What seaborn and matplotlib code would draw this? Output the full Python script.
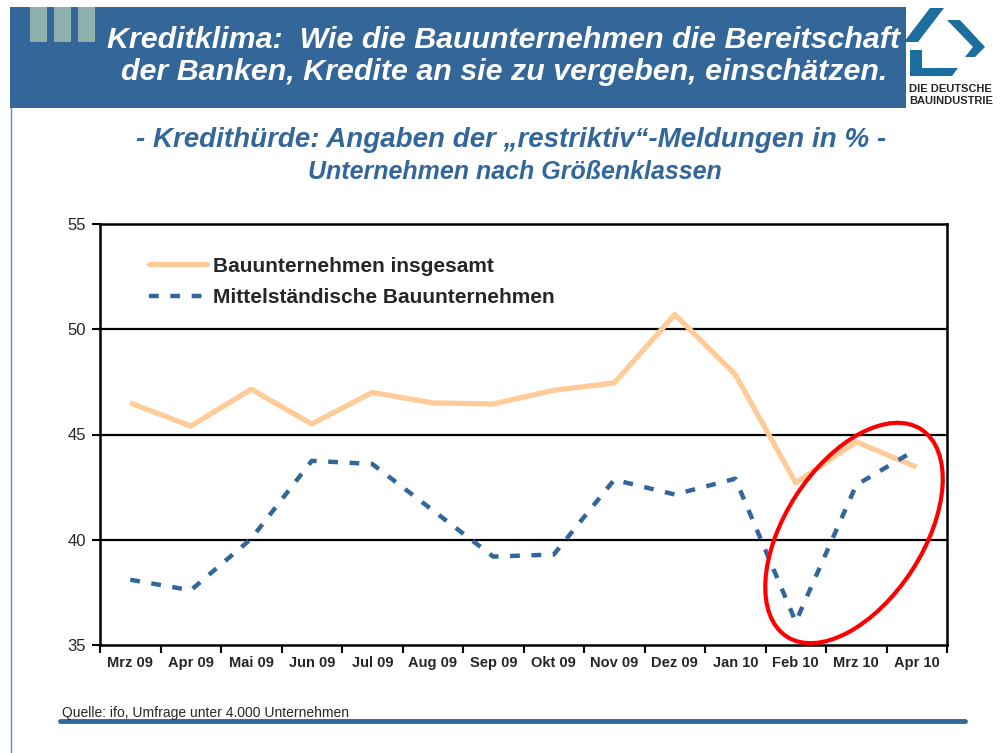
import matplotlib
matplotlib.use("Agg")
import matplotlib.pyplot as plt
import matplotlib.patches as mpatches
from matplotlib.lines import Line2D
from matplotlib.transforms import IdentityTransform
import seaborn as sns
import pandas as pd

# data
months = ["Mrz 09", "Apr 09", "Mai 09", "Jun 09", "Jul 09", "Aug 09", "Sep 09",
          "Okt 09", "Nov 09", "Dez 09", "Jan 10", "Feb 10", "Mrz 10", "Apr 10"]
insgesamt = [46.5, 45.4, 47.15, 45.5, 47.0, 46.5, 46.45, 47.1, 47.45, 50.7,
             47.85, 42.7, 44.65, 43.45]
mittelstand = [38.1, 37.6, 40.05, 43.75, 43.6, 41.4, 39.2, 39.3, 42.85, 42.15,
               42.9, 36.1, 42.6, 44.3]
series_names = ["Bauunternehmen insgesamt", "Mittelständische Bauunternehmen"]
yticks = [35, 40, 45, 50, 55]

title_lines = ["Kreditklima:  Wie die Bauunternehmen die Bereitschaft",
               "der Banken, Kredite an sie zu vergeben, einschätzen."]
subtitle = "- Kredithürde: Angaben der „restriktiv“-Meldungen in % -"
subtitle2 = "Unternehmen nach Größenklassen"
source = "Quelle: ifo, Umfrage unter 4.000 Unternehmen"

BLUE = "#336699"
ORANGE = "#FFCC99"

sns.set_style("white")
plt.rcParams["font.family"] = ["Liberation Sans", "DejaVu Sans"]

W, H = 1005, 753
fig = plt.figure(figsize=(W / 100, H / 100), dpi=100)


def fx(x):
    return x / W


def fy(y):
    return 1 - y / H


# header banner
fig.add_artist(mpatches.Rectangle((fx(10), fy(108)), fx(896), 101 / H,
                                  transform=fig.transFigure, color=BLUE, lw=0))
for x0 in [30, 54, 78]:
    fig.add_artist(mpatches.Rectangle((fx(x0), fy(42)), fx(17), 35 / H,
                                      transform=fig.transFigure, color="#8FB1AE", lw=0))
fig.text(fx(503), fy(40), title_lines[0], color="white", fontsize=21.9,
         fontweight="bold", style="italic", ha="center", va="center")
fig.text(fx(504), fy(72), title_lines[1], color="white", fontsize=21.9,
         fontweight="bold", style="italic", ha="center", va="center")

# logo (rough)
logo_col = "#1B6E9E"
logo_parts = [
    [(930, 8), (944, 8), (918, 42), (904, 42)],
    [(947, 20), (960, 20), (985, 47), (975, 57), (965, 57), (973, 47)],
    [(910, 50), (922, 50), (922, 68), (958, 68), (952, 76), (910, 76)],
]
for pts in logo_parts:
    fig.add_artist(mpatches.Polygon([(fx(a), fy(b)) for a, b in pts], closed=True,
                                    transform=fig.transFigure, color=logo_col, lw=0))
fig.text(fx(909), fy(89), "DIE DEUTSCHE", fontsize=8, fontweight="bold", va="center")
fig.text(fx(909), fy(101), "BAUINDUSTRIE", fontsize=8, fontweight="bold", va="center")

# left border line and bottom rule
fig.add_artist(Line2D([fx(11), fx(11)], [fy(108), fy(753)], transform=fig.transFigure,
                      color="#5B8FC9", lw=1))
fig.add_artist(Line2D([fx(60), fx(965)], [fy(721), fy(721)], transform=fig.transFigure,
                      color=BLUE, lw=3.5, solid_capstyle="round"))

fig.text(fx(511), fy(140), subtitle, color=BLUE, fontsize=20, fontweight="bold",
         style="italic", ha="center", va="center")
fig.text(fx(515), fy(172), subtitle2, color=BLUE, fontsize=18, fontweight="bold",
         style="italic", ha="center", va="center")
fig.text(fx(62), fy(713), source, fontsize=10, va="center")

# chart
ax = fig.add_axes([fx(100), fy(645), fx(847), (645 - 224) / H])
df = pd.DataFrame({
    "Monat": months * 2,
    "Wert": insgesamt + mittelstand,
    "Serie": [series_names[0]] * len(months) + [series_names[1]] * len(months),
})
sns.lineplot(data=df, x="Monat", y="Wert", hue="Serie", style="Serie",
             palette=[ORANGE, BLUE], dashes=[(1, 0), (2.2, 2.6)],
             sort=False, ax=ax, legend=False)
lines = ax.get_lines()
lines[0].set_linewidth(3.8)
lines[1].set_linewidth(3.2)
lines[1].set_dash_capstyle("butt")

ax.set_xlim(-0.5, len(months) - 0.5)
ax.set_ylim(35, 55)
ax.set_yticks(yticks)
ax.set_xticks(range(len(months)))
ax.set_xticklabels(months, fontweight="bold", fontsize=10.5, va="baseline")
ax.set_xticks([i - 0.5 for i in range(len(months) + 1)], minor=True)
ax.tick_params(axis="x", which="major", length=0, pad=16)
ax.tick_params(axis="x", which="minor", length=6, width=1.5, direction="out",
               color="black", bottom=True)
ax.tick_params(axis="y", length=6, width=1.5, direction="out", color="black",
               left=True, labelsize=12, pad=4)
ax.set_xlabel("")
ax.set_ylabel("")
for y in yticks[1:-1]:
    ax.axhline(y, color="black", lw=1.6, zorder=0)
for sp in ax.spines.values():
    sp.set_color("black")
    sp.set_linewidth(1.8)

handles = [Line2D([], [], color=ORANGE, lw=3.8),
           Line2D([], [], color=BLUE, lw=3.2, dashes=(2.2, 2.6), dash_capstyle="butt")]
ax.legend(handles, series_names, loc="upper left", bbox_to_anchor=(0.036, 0.967),
          frameon=False, handlelength=2.75, handletextpad=0.3, labelspacing=0.6,
          prop={"weight": "bold", "size": 15})

# red highlight ellipse (pixel coords)
fig.add_artist(mpatches.Ellipse((854, H - 533), width=247, height=138, angle=57,
                                transform=IdentityTransform(), fill=False,
                                ec="#FF0000", lw=3))

fig.savefig("out.png", dpi=100)
